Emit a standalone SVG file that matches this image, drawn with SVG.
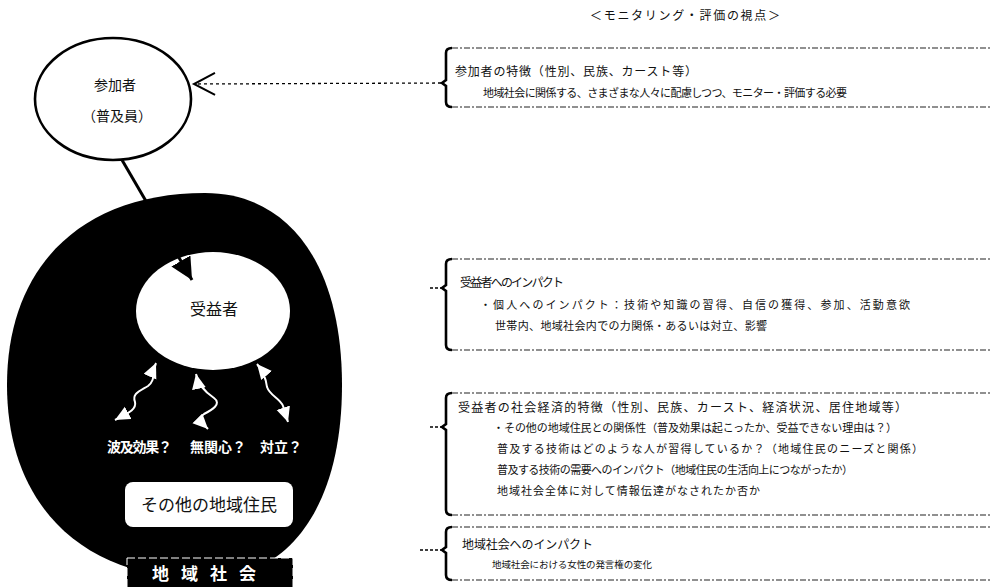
<svg xmlns="http://www.w3.org/2000/svg" width="990" height="587" viewBox="0 0 990 587">
<style>
.t{font-family:"Noto Sans CJK JP","Noto Sans",sans-serif;fill:#111}
.w{font-family:"Noto Sans CJK JP","Noto Sans",sans-serif;fill:#fff}
.dash{stroke:#222;stroke-width:1.2;stroke-dasharray:6 2 2 2;fill:none}
.br{stroke:#000;stroke-width:2.6;fill:none}
.wave{stroke:#fff;stroke-width:2;fill:none}
</style>
<defs>
<marker id="blk" markerUnits="userSpaceOnUse" markerWidth="26" markerHeight="24" refX="22" refY="11" orient="auto">
<path d="M0,0 L22,11 L0,22 Z" fill="#000"/>
</marker>
<marker id="open" markerUnits="userSpaceOnUse" markerWidth="26" markerHeight="28" refX="22" refY="13" orient="auto">
<path d="M1,2 L22,13 L1,24" fill="none" stroke="#000" stroke-width="2"/>
</marker>
<marker id="wh" markerUnits="userSpaceOnUse" markerWidth="18" markerHeight="16" refX="15" refY="7" orient="auto-start-reverse">
<path d="M0,0 L15,7 L0,14 Z" fill="#fff"/>
</marker>
</defs>
<rect width="990" height="587" fill="#fff"/>

<text class="t" x="590" y="20" font-size="12" textLength="190">＜モニタリング・評価の視点＞</text>

<g id="community">
<path d="M205,193 C290,193 342,266 342,385 C342,505 290,579 205,579 C82,579 7,505 7,385 C7,266 82,193 205,193 Z" fill="#000"/>
</g>

<g id="participant">
<ellipse cx="113" cy="99" rx="78" ry="61" fill="#fff" stroke="#000" stroke-width="2.6"/>
<text class="t" x="115" y="90" font-size="14" text-anchor="middle">参加者</text>
<text class="t" x="117" y="121" font-size="14" text-anchor="middle">（普及員）</text>
</g>

<g id="beneficiary">
<ellipse cx="213" cy="311" rx="77" ry="59" fill="#fff"/>
<text class="t" x="214" y="315" font-size="16" text-anchor="middle">受益者</text>
</g>

<g id="labels">
<text class="w" x="107" y="452" font-size="14" font-weight="bold" textLength="65">波及効果？</text>
<text class="w" x="190" y="452" font-size="14" font-weight="bold" textLength="56">無関心？</text>
<text class="w" x="260" y="452" font-size="14" font-weight="bold" textLength="42">対立？</text>
</g>

<g id="others">
<rect x="125" y="482" width="168" height="45" rx="8" fill="#fff"/>
<text class="t" x="209" y="511" font-size="17" text-anchor="middle">その他の地域住民</text>
</g>

<g id="community-label">
<rect x="127" y="558" width="166" height="30" fill="#000" stroke="#fff" stroke-width="1" stroke-dasharray="8 3"/>
<text class="w" x="210" y="580" font-size="17" font-weight="bold" text-anchor="middle" letter-spacing="12">地域社会</text>
</g>

<g id="box1">
<path class="br" d="M452,48 Q446,48 446,53 V80 L442,83 L446,86 V102 Q446,107 452,107"/>
<line class="dash" x1="452" y1="48" x2="990" y2="48"/>
<line class="dash" x1="452" y1="107" x2="990" y2="107"/>
<text class="t" x="455" y="76" font-size="12" textLength="242">参加者の特徴（性別、民族、カースト等）</text>
<text class="t" x="483" y="97" font-size="11" textLength="364">地域社会に関係する、さまざまな人々に配慮しつつ、モニター・評価する必要</text>
</g>

<g id="box2">
<path class="br" d="M452,259 Q446,259 446,264 V285 L442,288 L446,291 V345 Q446,350 452,350"/>
<line class="dash" x1="452" y1="259" x2="990" y2="259"/>
<line class="dash" x1="452" y1="350" x2="990" y2="350"/>
<text class="t" x="460" y="287" font-size="12" textLength="104">受益者へのインパクト</text>
<text class="t" x="480" y="309" font-size="11" textLength="430">・個人へのインパクト：技術や知識の習得、自信の獲得、参加、活動意欲</text>
<text class="t" x="495" y="330" font-size="11" textLength="272">世帯内、地域社会内での力関係・あるいは対立、影響</text>
</g>

<g id="box3">
<path class="br" d="M452,393 Q446,393 446,398 V424 L442,427 L446,430 V510 Q446,515 452,515"/>
<line class="dash" x1="452" y1="393" x2="990" y2="393"/>
<line class="dash" x1="452" y1="515" x2="990" y2="515"/>
<text class="t" x="458" y="412" font-size="12" textLength="449">受益者の社会経済的特徴（性別、民族、カースト、経済状況、居住地域等）</text>
<text class="t" x="493" y="432" font-size="11" textLength="404">・その他の地域住民との関係性（普及効果は起こったか、受益できない理由は？）</text>
<text class="t" x="497" y="453" font-size="11" textLength="426">普及する技術はどのような人が習得しているか？（地域住民のニーズと関係）</text>
<text class="t" x="497" y="474" font-size="11" textLength="356">普及する技術の需要へのインパクト（地域住民の生活向上につながったか）</text>
<text class="t" x="497" y="495" font-size="11" textLength="263">地域社会全体に対して情報伝達がなされたか否か</text>
</g>

<g id="box4">
<path class="br" d="M452,527 Q446,527 446,532 V547 L442,550 L446,553 V575 Q446,580 452,580"/>
<line class="dash" x1="452" y1="527" x2="990" y2="527"/>
<line class="dash" x1="452" y1="580" x2="990" y2="580"/>
<text class="t" x="462" y="549" font-size="12" textLength="131">地域社会へのインパクト</text>
<text class="t" x="492" y="568" font-size="9.5" textLength="160">地域社会における女性の発言権の変化</text>
</g>

<g id="connectors">
<line x1="441" y1="83" x2="194" y2="84" stroke="#000" stroke-width="1.3" stroke-dasharray="3 3" marker-end="url(#open)"/>
<line x1="430" y1="288" x2="441" y2="288" stroke="#000" stroke-width="1.3" stroke-dasharray="3 2"/>
<line x1="430" y1="427" x2="441" y2="427" stroke="#000" stroke-width="1.3" stroke-dasharray="3 2"/>
<line x1="420" y1="550" x2="441" y2="550" stroke="#000" stroke-width="1.3" stroke-dasharray="3 2"/>
<line x1="122" y1="160" x2="192" y2="280" stroke="#000" stroke-width="3" marker-end="url(#blk)"/>
<path class="wave" d="M156,363 C152,372 156,380 148,386 C138,392 132,394 135,402 C137,410 126,414 115,420" marker-start="url(#wh)" marker-end="url(#wh)"/>
<path class="wave" d="M196,374 C198,384 205,392 214,398 C222,404 212,410 204,414 C198,418 203,424 208,429" marker-start="url(#wh)" marker-end="url(#wh)"/>
<path class="wave" d="M257,364 C262,370 266,378 267,387 C270,396 280,398 283,406 C285,412 286,416 288,422" marker-start="url(#wh)" marker-end="url(#wh)"/>
</g>
</svg>
